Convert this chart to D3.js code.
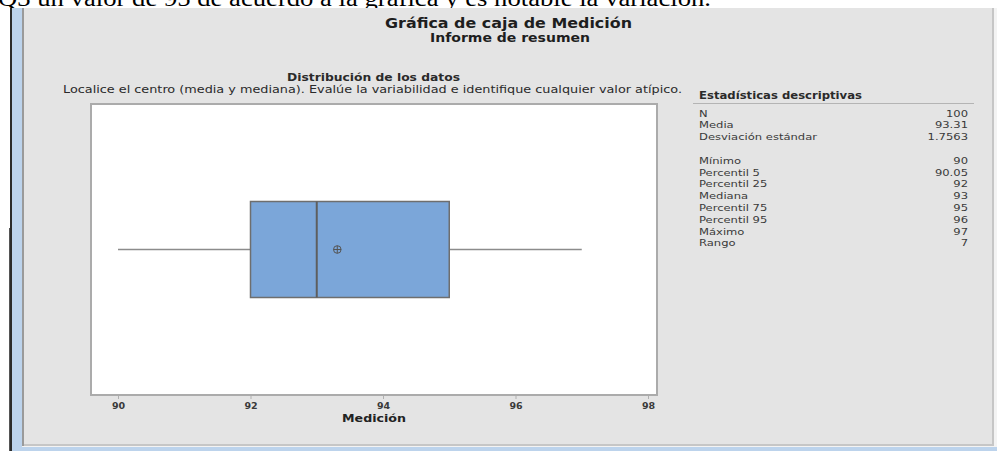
<!DOCTYPE html>
<html>
<head>
<meta charset="utf-8">
<script src="https://cdn.jsdelivr.net/npm/d3@7"></script>
<style>
  body { margin: 0; background: #fff; }
  svg { display: block; }
</style>
</head>
<body>
<div id="chart"></div>
<script>
// ---- data ----
const tickValues = [90, 92, 94, 96, 98];
const boxLow = 90, boxQ1 = 92, boxMedian = 93, boxQ3 = 95, boxHigh = 97;
const boxMean = 93.31;
const statLabels = ["N", "Media", "Desviación estándar", "", "Mínimo", "Percentil 5", "Percentil 25",
                    "Mediana", "Percentil 75", "Percentil 95", "Máximo", "Rango"];
const statValues = ["100", "93.31", "1.7563", "", "90", "90.05", "92", "93", "95", "96", "97", "7"];

const W = 997, H = 451;
const SANS = "'DejaVu Sans', Verdana, sans-serif";

const svg = d3.select("#chart").append("svg")
  .attr("width", W).attr("height", H);

// stretch a text node's glyphs to a measured width (the source font renders wide)
function stretch(sel, w) {
  sel.attr("textLength", w).attr("lengthAdjust", "spacingAndGlyphs");
  return sel;
}
function widthOf(sel) {
  return sel.node().getComputedTextLength();
}

// ---- surrounding document / window frame ----
stretch(svg.append("text")
  .attr("x", -2).attr("y", 6)
  .attr("font-family", "'Liberation Serif', 'Times New Roman', serif")
  .attr("font-size", 23).attr("fill", "#000")
  .text("Q3 un valor de 95 de acuerdo a la gráfica y es notable la variación."), 713);

svg.append("rect").attr("x", 9).attr("y", 228).attr("width", 1).attr("height", H - 228).attr("fill", "#555");
svg.append("rect").attr("x", 10).attr("y", 8).attr("width", 2).attr("height", H - 8).attr("fill", "#2b2b2b");
svg.append("rect").attr("x", 12).attr("y", 8).attr("width", W - 12).attr("height", H - 8).attr("fill", "#bcd3ec");
svg.append("rect").attr("x", 22).attr("y", 8).attr("width", 975).attr("height", 439).attr("fill", "#f3f3f3");
svg.append("rect").attr("x", 22).attr("y", 8).attr("width", 972).attr("height", 438).attr("fill", "#c6c6c6");
svg.append("rect").attr("x", 22).attr("y", 8).attr("width", 2).attr("height", 438).attr("fill", "#9a9a9a");
svg.append("rect").attr("x", 24).attr("y", 8).attr("width", 968).attr("height", 436).attr("fill", "#e4e4e4");

// ---- titles ----
stretch(svg.append("text")
  .attr("x", 385).attr("y", 27.5)
  .attr("font-family", SANS).attr("font-weight", "bold").attr("font-size", 13.5).attr("fill", "#1e1e1e")
  .text("Gráfica de caja de Medición"), 247);

stretch(svg.append("text")
  .attr("x", 430).attr("y", 41.5)
  .attr("font-family", SANS).attr("font-weight", "bold").attr("font-size", 12).attr("fill", "#1e1e1e")
  .text("Informe de resumen"), 160);

stretch(svg.append("text")
  .attr("x", 287).attr("y", 80.5)
  .attr("font-family", SANS).attr("font-weight", "bold").attr("font-size", 10).attr("fill", "#2a2a2a")
  .text("Distribución de los datos"), 173);

stretch(svg.append("text")
  .attr("x", 63).attr("y", 92.5)
  .attr("font-family", SANS).attr("font-size", 10).attr("fill", "#2a2a2a")
  .text("Localice el centro (media y mediana). Evalúe la variabilidad e identifique cualquier valor atípico."), 619);

// ---- box plot ----
const plot = { left: 91, right: 657, top: 104, bottom: 395 };

const x = d3.scaleLinear().domain([90, 98]).range([118, 648]);
const y = d3.scalePoint().domain(["Medición"]).range([plot.top, plot.bottom]).padding(0.5);
const boxHalf = 48;
const cy = y("Medición");

svg.append("rect")
  .attr("x", plot.left).attr("y", plot.top)
  .attr("width", plot.right - plot.left).attr("height", plot.bottom - plot.top)
  .attr("fill", "#fff").attr("stroke", "#ababab").attr("stroke-width", 2);

const g = svg.append("g");

// whiskers
g.selectAll("line.whisker")
  .data([[boxLow, boxQ1], [boxQ3, boxHigh]])
  .join("line")
  .attr("class", "whisker")
  .attr("x1", d => x(d[0])).attr("x2", d => x(d[1]))
  .attr("y1", cy).attr("y2", cy)
  .attr("stroke", "#8c8c8c").attr("stroke-width", 1.5);

// box
g.append("rect")
  .attr("x", x(boxQ1)).attr("y", cy - boxHalf)
  .attr("width", x(boxQ3) - x(boxQ1)).attr("height", boxHalf * 2)
  .attr("fill", "#7ba6d9").attr("stroke", "#6e6e6e").attr("stroke-width", 1.5);

// median
g.append("line")
  .attr("x1", x(boxMedian)).attr("x2", x(boxMedian))
  .attr("y1", cy - boxHalf).attr("y2", cy + boxHalf)
  .attr("stroke", "#5e5e5e").attr("stroke-width", 2);

// mean symbol (circle with cross)
const mx = x(boxMean);
g.append("circle").attr("cx", mx).attr("cy", cy).attr("r", 3.8)
  .attr("fill", "none").attr("stroke", "#555").attr("stroke-width", 1);
g.append("line").attr("x1", mx - 3.8).attr("x2", mx + 3.8).attr("y1", cy).attr("y2", cy)
  .attr("stroke", "#555").attr("stroke-width", 1);
g.append("line").attr("x1", mx).attr("x2", mx).attr("y1", cy - 3.8).attr("y2", cy + 3.8)
  .attr("stroke", "#555").attr("stroke-width", 1);

// x axis
const xAxis = d3.axisBottom(x).tickValues(tickValues).tickSize(3).tickPadding(3).tickFormat(d3.format("d"));
const ax = svg.append("g")
  .attr("transform", `translate(0,${plot.bottom + 1})`)
  .call(xAxis);
ax.select(".domain").remove();
ax.selectAll(".tick line").attr("stroke", "#b0b0b0");
ax.selectAll(".tick text")
  .attr("font-family", SANS).attr("font-size", 9.5).attr("font-weight", "bold")
  .attr("fill", "#3a3a3a");

stretch(svg.append("text")
  .attr("x", 342).attr("y", 422)
  .attr("font-family", SANS).attr("font-weight", "bold").attr("font-size", 10.5).attr("fill", "#222")
  .text("Medición"), 64);

// ---- descriptive statistics table ----
stretch(svg.append("text")
  .attr("x", 699).attr("y", 98.5)
  .attr("font-family", SANS).attr("font-weight", "bold").attr("font-size", 10).attr("fill", "#2a2a2a")
  .text("Estadísticas descriptivas"), 163);

svg.append("line")
  .attr("x1", 693).attr("x2", 974).attr("y1", 103.5).attr("y2", 103.5)
  .attr("stroke", "#b4b4b4").attr("stroke-width", 1);

const rowY = d3.scaleLinear().domain([0, 11]).range([116.5, 246.3]);

const labelSel = svg.selectAll("text.stat-label")
  .data(statLabels)
  .join("text")
  .attr("class", "stat-label")
  .attr("x", 699).attr("y", (d, i) => rowY(i))
  .attr("font-family", SANS).attr("font-size", 9.5).attr("fill", "#3a3a3a")
  .text(d => d);

const valueSel = svg.selectAll("text.stat-value")
  .data(statValues)
  .join("text")
  .attr("class", "stat-value")
  .attr("x", 968).attr("y", (d, i) => rowY(i))
  .attr("text-anchor", "end")
  .attr("font-family", SANS).attr("font-size", 9.5).attr("fill", "#3a3a3a")
  .text(d => d);

// one common glyph stretch for the table, set from the widest label
const factor = 118 / widthOf(labelSel.filter(d => d === "Desviación estándar"));
labelSel.filter(d => d !== "").each(function () {
  stretch(d3.select(this), this.getComputedTextLength() * factor);
});
valueSel.filter(d => d !== "").each(function () {
  stretch(d3.select(this), this.getComputedTextLength() * factor);
});
</script>
</body>
</html>
